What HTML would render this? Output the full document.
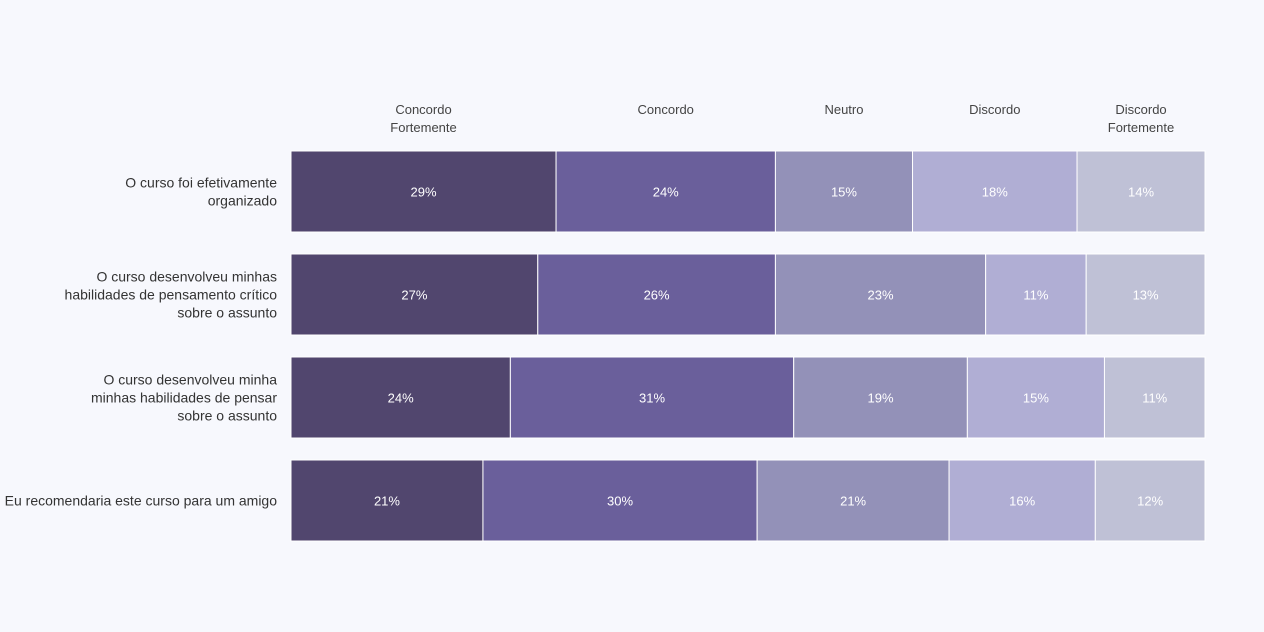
<!DOCTYPE html>
<html><head><meta charset="utf-8"><style>
html,body{margin:0;padding:0;background:#f7f8fd;}
svg{display:block;font-family:"Liberation Sans",sans-serif;}
</style></head><body>
<svg id="chart" width="1264" height="632">
<rect width="1264" height="632" fill="#f7f8fd"/>
</svg>
<script>
const categories = [
  ["O curso foi efetivamente","organizado"],
  ["O curso desenvolveu minhas","habilidades de pensamento crítico","sobre o assunto"],
  ["O curso desenvolveu minha","minhas habilidades de pensar","sobre o assunto"],
  ["Eu recomendaria este curso para um amigo"]
];
const seriesNames = [["Concordo","Fortemente"],["Concordo"],["Neutro"],["Discordo"],["Discordo","Fortemente"]];
const concordoFortemente = [29,27,24,21];
const concordo = [24,26,31,30];
const neutro = [15,23,19,21];
const discordo = [18,11,15,16];
const discordoFortemente = [14,13,11,12];
const series = [concordoFortemente, concordo, neutro, discordo, discordoFortemente];
const colors = ["#51466e","#6a5f9b","#9391b8","#b0aed4","#bfc1d6"];

const svg = document.getElementById('chart');
const NS = "http://www.w3.org/2000/svg";
const x0 = 291, x1 = 1205, yTop = 151, step = 103, barH = 81;
function xScale(cum, total){ return x0 + (x1 - x0) * cum / total; }
function yScale(i){ return yTop + i * step; }

function mk(tag, attrs){ const e = document.createElementNS(NS, tag); for (const k in attrs) e.setAttribute(k, attrs[k]); return e; }

categories.forEach((cat, i) => {
  const total = series.reduce((s, arr) => s + arr[i], 0);
  let cum = 0;
  const y = yScale(i);
  series.forEach((arr, j) => {
    const xa = xScale(cum, total), xb = xScale(cum + arr[i], total);
    const r = mk('rect', {x: xa, y: y, width: xb - xa, height: barH, fill: colors[j], stroke: '#ffffff', 'stroke-width': 1});
    
    
    svg.appendChild(r);
    const t = mk('text', {x: (xa + xb) / 2, y: y + barH / 2 + 5, 'text-anchor': 'middle', fill: '#ffffff', 'font-size': 13});
    t.textContent = arr[i] + '%';
    
    
    svg.appendChild(t);
    if (i === 0) {
      seriesNames[j].forEach((ln, k) => {
        const h = mk('text', {x: (xa + xb) / 2, y: 114 + k * 18, 'text-anchor': 'middle', fill: '#444', 'font-size': 13});
        h.textContent = ln;
        
        
        svg.appendChild(h);
      });
    }
    cum += arr[i];
  });
  const n = cat.length;
  cat.forEach((ln, k) => {
    const t = mk('text', {x: 277, y: y + barH / 2 + 5 + (k - (n - 1) / 2) * 18, 'text-anchor': 'end', fill: '#333', 'font-size': 14});
    t.textContent = ln;
    
    
    svg.appendChild(t);
  });
});
</script>
</body></html>
